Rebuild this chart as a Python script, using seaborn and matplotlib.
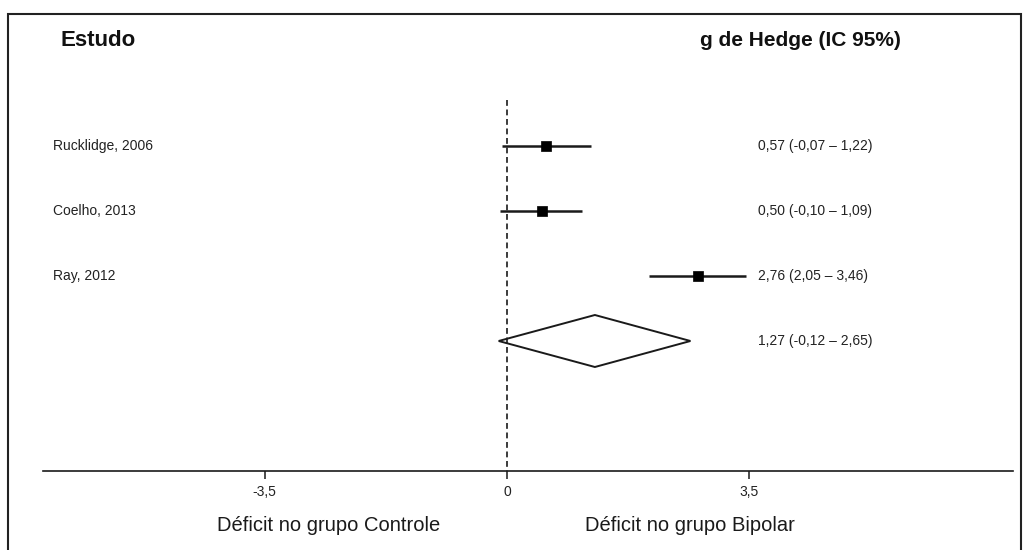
import matplotlib
matplotlib.use("Agg")
import matplotlib.pyplot as plt
from matplotlib.patches import Polygon, Rectangle
import seaborn as sns
import pandas as pd

# Study-level effect sizes (Hedges' g with 95% CI)
studies = ["Rucklidge, 2006", "Coelho, 2013", "Ray, 2012"]
g_values = [0.57, 0.50, 2.76]
ci_low = [-0.07, -0.10, 2.05]
ci_high = [1.22, 1.09, 3.46]

# Pooled estimate
pooled_g = 1.27
pooled_low = -0.12
pooled_high = 2.65

tick_values = [-3.5, 0, 3.5]
tick_labels = ["-3,5", "0", "3,5"]

header_left = "Estudo"
header_right = "g de Hedge (IC 95%)"
side_left = "Déficit no grupo Controle"
side_right = "Déficit no grupo Bipolar"


def fmt(v):
    return f"{v:.2f}".replace(".", ",")


def ci_text(g, lo, hi):
    return f"{fmt(g)} ({fmt(lo)} \u2013 {fmt(hi)})"


sns.set_theme(style="white")
plt.rcParams["font.family"] = ["Liberation Sans", "DejaVu Sans"]

W, H = 1026, 550
fig = plt.figure(figsize=(W / 100, H / 100), dpi=100)
fig.patch.set_facecolor("white")


def fx(px):
    return px / W


def fy(py):
    return 1 - py / H


AX_L, AX_R = 42.5, 1013.0
ax = fig.add_axes([fx(AX_L), fy(471), fx(AX_R) - fx(AX_L), fy(60) - fy(471)])
ax.set_facecolor("white")


def ax_frac(px):
    return (px - AX_L) / (AX_R - AX_L)


df = pd.DataFrame({"study": studies, "g": g_values, "lo": ci_low,
                   "hi": ci_high, "row": range(len(studies))})
ink = "#1a1a1a"

# Confidence intervals
ax.hlines(df["row"], df["lo"], df["hi"], color=ink, lw=1.8, zorder=2)
# Point estimates
sns.scatterplot(data=df, x="g", y="row", marker="s", s=52, color="black",
                edgecolor="black", linewidth=0.5, ax=ax, zorder=3, legend=False)

# Pooled diamond
pooled_row = len(studies)
half_h = 0.4
diamond = Polygon([(pooled_low, pooled_row), (pooled_g, pooled_row - half_h),
                   (pooled_high, pooled_row), (pooled_g, pooled_row + half_h)],
                  closed=True, facecolor="none", edgecolor=ink, lw=1.4, zorder=3)
ax.add_patch(diamond)

ax.set_xlim(-6.71, 7.31)
ax.set_ylim(5.0, -1.323)

# No-effect reference line
ax.vlines(0, -0.708, 5.0, colors=ink, linestyles=(0, (3.5, 2.2)), lw=1.2, zorder=1)

for side in ["left", "right", "top"]:
    ax.spines[side].set_visible(False)
ax.spines["bottom"].set_color(ink)
ax.spines["bottom"].set_linewidth(1.2)
ax.set_yticks([])
ax.set_xticks(tick_values)
ax.set_xticklabels(tick_labels, fontsize=10, color="#222222")
ax.tick_params(axis="x", direction="out", length=6, width=1.1, color=ink,
               pad=4, bottom=True)
ax.set_xlabel("")
ax.set_ylabel("")

# Study names and CI texts
ytr = ax.get_yaxis_transform()
for i, name in enumerate(studies):
    ax.text(ax_frac(53), i, name, transform=ytr, fontsize=10,
            color="#222222", va="center", ha="left")
    ax.text(ax_frac(758), i, ci_text(g_values[i], ci_low[i], ci_high[i]),
            transform=ytr, fontsize=10, color="#222222", va="center", ha="left")
ax.text(ax_frac(758), pooled_row, ci_text(pooled_g, pooled_low, pooled_high),
        transform=ytr, fontsize=10, color="#222222", va="center", ha="left")

# Headers
fig.text(fx(60), fy(46.5), header_left, fontsize=16, fontweight="bold",
         color="#111111", ha="left", va="baseline")
fig.text(fx(700), fy(46.5), header_right, fontsize=15, fontweight="bold",
         color="#111111", ha="left", va="baseline")

# Direction labels under the axis
fig.text(fx(329), fy(531), side_left, fontsize=14.5, color="#1a1a1a",
         ha="center", va="baseline")
fig.text(fx(690), fy(531), side_right, fontsize=14.5, color="#1a1a1a",
         ha="center", va="baseline")

# Outer frame
fig.patches.append(Rectangle((fx(8), fy(560)), fx(1021) - fx(8), fy(14) - fy(560),
                             transform=fig.transFigure, fill=False,
                             edgecolor="#222222", lw=1.5))

fig.savefig("out.png", dpi=100, facecolor="white")
